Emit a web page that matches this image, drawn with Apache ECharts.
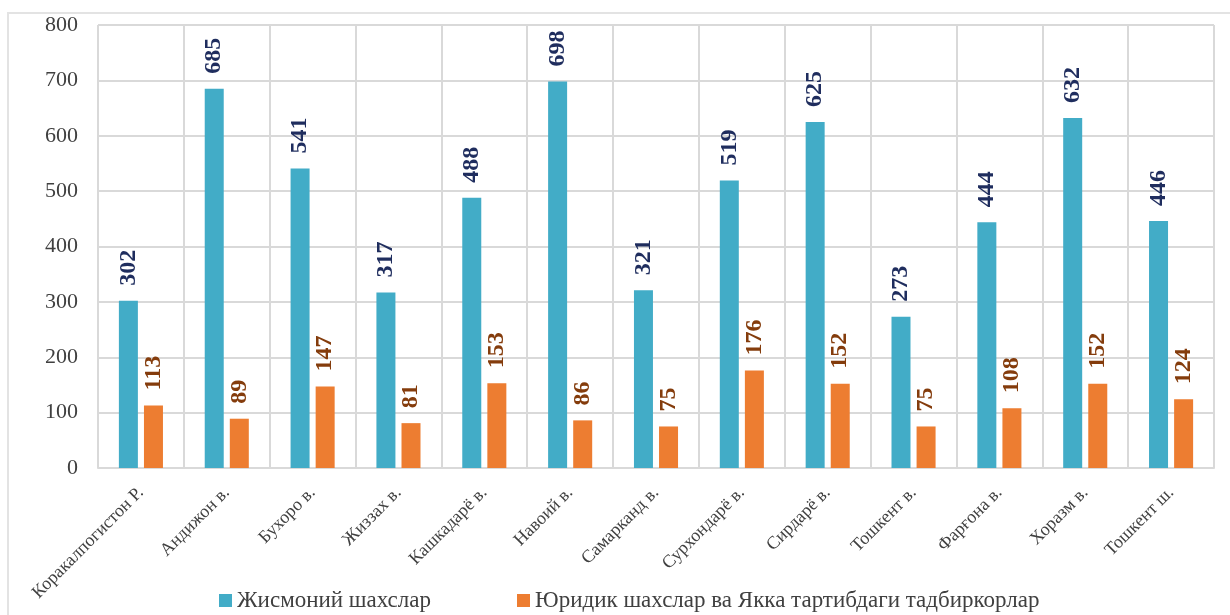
<!DOCTYPE html>
<html>
<head>
<meta charset="utf-8">
<script src="https://cdn.jsdelivr.net/npm/echarts@6/dist/echarts.min.js"></script>
<style>
html, body { margin: 0; padding: 0; background: #fff; }
#frame { position: absolute; left: 7px; top: 12px; width: 1240px; height: 620px; border: 2px solid #e3e3e3; box-sizing: border-box; }
#chart { position: absolute; left: 0; top: 0; width: 1230px; height: 615px; }
</style>
</head>
<body>
<div id="frame"></div>
<div id="chart"></div>
<script>
// вилоятлар
var regions = ["Коракалпогистон Р.", "Андижон в.", "Бухоро в.", "Жиззах в.", "Кашкадарё в.",
	"Навоий в.", "Самарканд в.", "Сурхондарё в.", "Сирдарё в.", "Тошкент в.",
	"Фарғона в.", "Хоразм в.", "Тошкент ш."];
var physical = [302, 685, 541, 317, 488, 698, 321, 519, 625, 273, 444, 632, 446];
var legal = [113, 89, 147, 81, 153, 86, 75, 176, 152, 75, 108, 152, 124];
var seriesNames = ["Жисмоний шахслар", "Юридик шахслар ва Якка тартибдаги тадбиркорлар"];

var font = "'Liberation Serif', 'DejaVu Serif', serif";
var myChart = echarts.init(document.getElementById('chart'));

function barLabel(color){
	return {
		show: true,
		position: 'top',
		rotate: 90,
		align: 'left',
		verticalAlign: 'middle',
		distance: 15,
		fontFamily: font,
		fontSize: 24,
		fontWeight: 'bold',
		color: color
	};
}

var option = {
	animation: false,
	legend: {
		bottom: -2,
		left: 214,
		itemWidth: 13,
		itemHeight: 13,
		itemGap: 86,
		icon: 'rect',
		textStyle: { fontFamily: font, fontSize: 23, color: '#404040' },
		data: seriesNames
	},
	grid: {
		left: 98,
		right: 16,
		top: 25,
		bottom: 147
	},
	xAxis: {
		type: 'category',
		data: regions,
		axisLine: { lineStyle: { color: '#d9d9d9', width: 2 } },
		axisTick: { show: false },
		splitLine: { show: true, lineStyle: { color: '#d9d9d9', width: 2 } },
		axisLabel: {
			interval: 0,
			rotate: 45,
			margin: 22,
			fontFamily: font,
			fontSize: 18,
			color: '#404040'
		}
	},
	yAxis: {
		type: 'value',
		min: 0,
		max: 800,
		interval: 100,
		axisLine: { show: false },
		axisTick: { show: false },
		splitLine: { lineStyle: { color: '#d9d9d9', width: 2 } },
		axisLabel: { fontFamily: font, fontSize: 22, color: '#404040', margin: 20 }
	},
	series: [
		{
			name: seriesNames[0],
			type: 'bar',
			data: physical,
			barWidth: 19,
			barGap: '32%',
			itemStyle: { color: '#42acc7' },
			label: barLabel('#1f2d5e')
		},
		{
			name: seriesNames[1],
			type: 'bar',
			data: legal,
			barWidth: 19,
			itemStyle: { color: '#ed7d31' },
			label: barLabel('#843c0c')
		}
	]
};
myChart.setOption(option);
</script>
</body>
</html>
